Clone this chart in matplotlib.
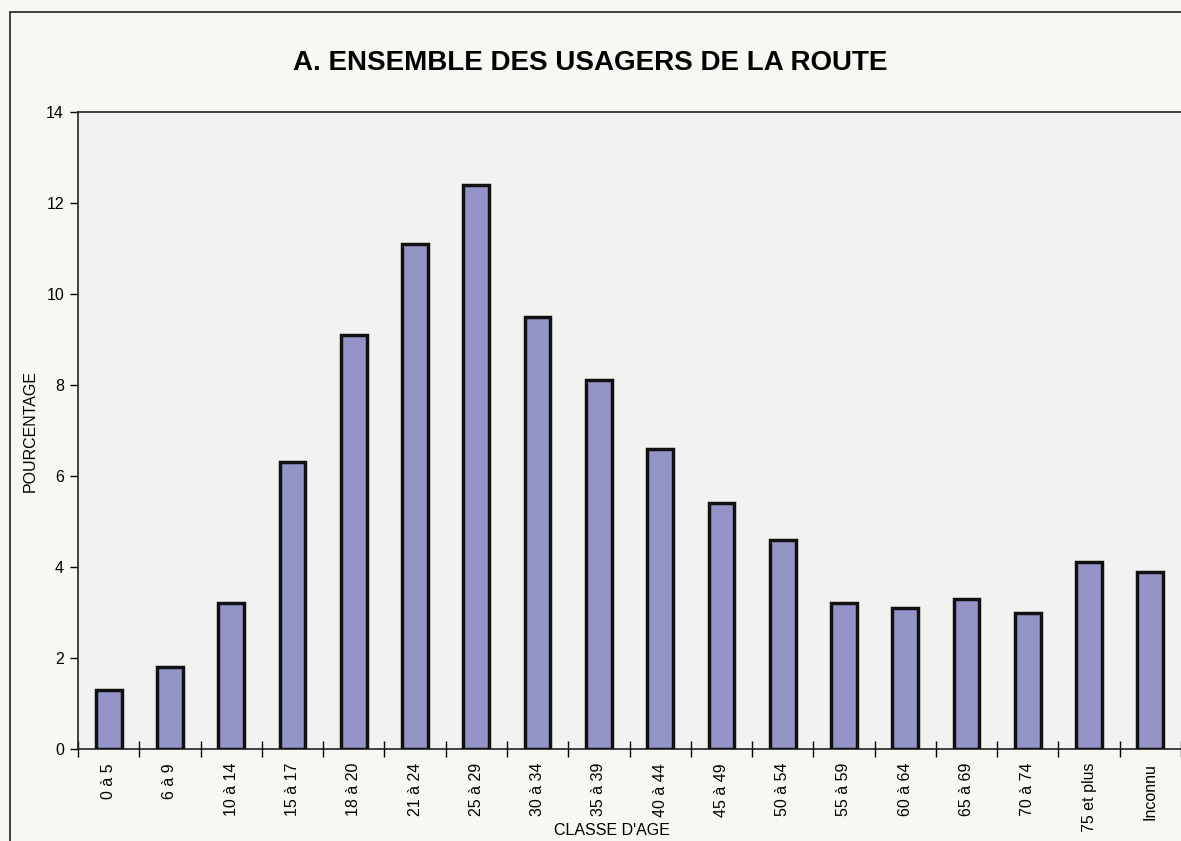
import matplotlib.pyplot as plt
from matplotlib.patches import Rectangle

# age classes and share of road users (%)
categories = ['0 à 5', '6 à 9', '10 à 14', '15 à 17', '18 à 20', '21 à 24',
              '25 à 29', '30 à 34', '35 à 39', '40 à 44', '45 à 49', '50 à 54',
              '55 à 59', '60 à 64', '65 à 69', '70 à 74', '75 et plus', 'Inconnu']
percent = [1.3, 1.8, 3.2, 6.3, 9.1, 11.1, 12.4, 9.5, 8.1, 6.6, 5.4, 4.6,
           3.2, 3.1, 3.3, 3.0, 4.1, 3.9]
y_ticks = [0, 2, 4, 6, 8, 10, 12, 14]

plt.rcParams['font.family'] = ['Liberation Sans', 'DejaVu Sans']

fig = plt.figure(figsize=(11.81, 8.41), dpi=100, facecolor='#f7f7f4')
ax = fig.add_axes([78 / 1181, 1 - 749 / 841, 1 - 78 / 1181, (749 - 112) / 841])
ax.set_facecolor('#f2f3f0')

# outer frame, cut by the right and bottom edges like the scan
fig.patches.append(Rectangle((10 / 1181, -0.05), 1.1, 1 - 12 / 841 + 0.05,
                             transform=fig.transFigure, fill=False,
                             edgecolor='#222222', linewidth=1.2))

x = range(len(categories))
ax.bar(x, percent, width=0.42, color='#9494c9', edgecolor='#111111',
       linewidth=2.5, zorder=3)

ax.set_xlim(-0.5, len(categories) - 0.5)
ax.set_ylim(0, 14)
ax.set_yticks(y_ticks)
ax.tick_params(axis='y', direction='out', length=6, width=1, labelsize=11.5,
               pad=4)

ax.set_xticks(x)
ax.set_xticklabels(categories, rotation=90, fontsize=11.5)
ax.set_xticks([i - 0.5 for i in range(len(categories) + 1)], minor=True)
ax.tick_params(axis='x', which='major', length=0, pad=10)
ax.tick_params(axis='x', which='minor', direction='inout', length=11, width=1)

for side in ['left', 'top', 'bottom']:
    ax.spines[side].set_linewidth(1.2)
    ax.spines[side].set_color('#222222')
ax.spines['right'].set_visible(False)

ax.set_ylabel('POURCENTAGE', fontsize=11.5)
ax.yaxis.set_label_coords(-40 / 1103, 0.5)
ax.set_xlabel("CLASSE D'AGE", fontsize=11.5)
ax.xaxis.set_label_coords(0.484, -74 / 637)

fig.text(0.5, 1 - 63 / 841, 'A. ENSEMBLE DES USAGERS DE LA ROUTE',
         ha='center', va='center', fontsize=20, fontweight='bold')

fig.savefig('out.png', dpi=100, facecolor=fig.get_facecolor())
